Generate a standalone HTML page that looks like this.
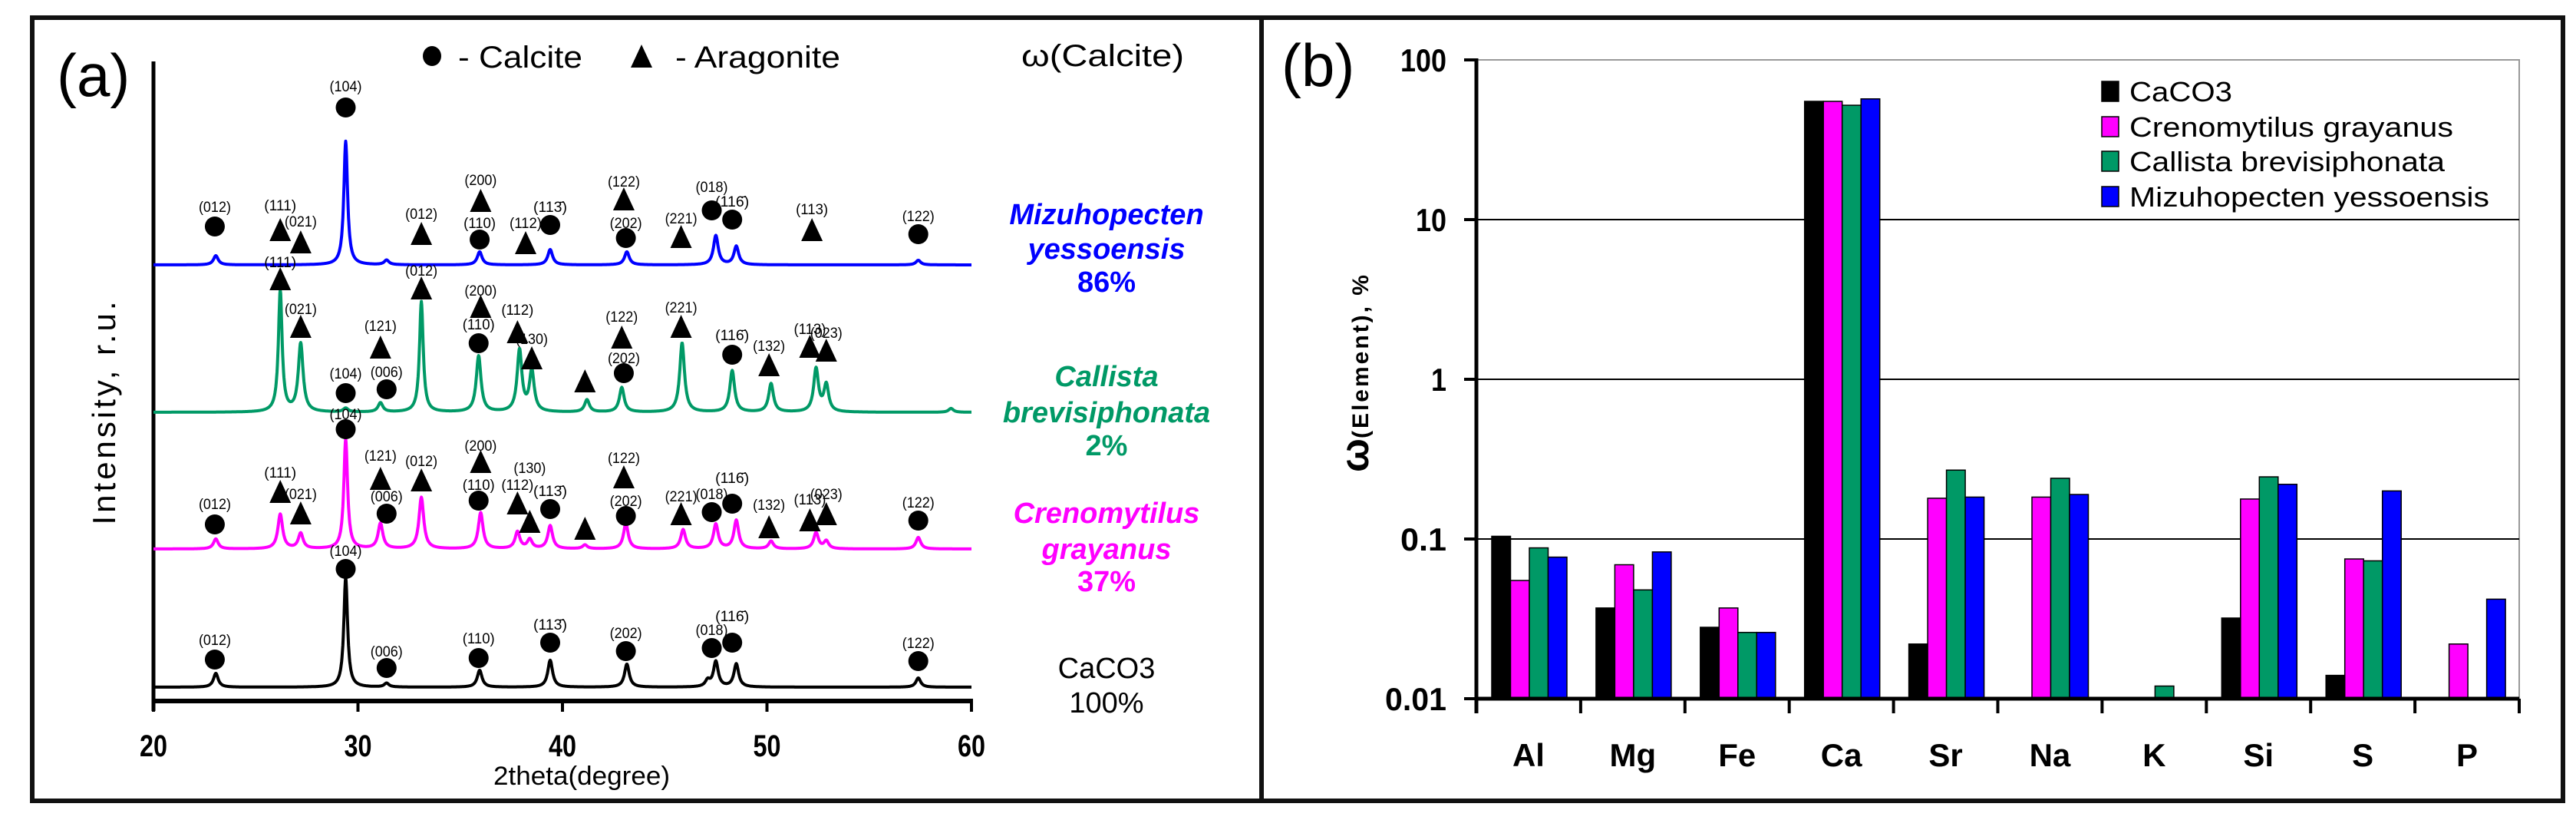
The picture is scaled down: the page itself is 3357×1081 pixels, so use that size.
<!DOCTYPE html>
<html><head><meta charset="utf-8"><style>
html,body{margin:0;padding:0;background:#fff;}
svg{display:block;font-family:"Liberation Sans",sans-serif;}
</style></head><body>
<svg id="fig" width="3357" height="1081" viewBox="0 0 3357 1081" xmlns="http://www.w3.org/2000/svg">
<rect x="0" y="0" width="3357" height="1081" fill="#fff"/>
<rect x="42" y="23" width="1602" height="1020" fill="none" stroke="#111" stroke-width="6"/>
<rect x="1644" y="23" width="1696" height="1020" fill="none" stroke="#111" stroke-width="6"/>
<g id="pa"></g>
<g id="pb"></g>
</svg>
<script>
// ===== Panel (a) XRD data =====
const seriesNames = ["Mizuhopecten yessoensis","Callista brevisiphonata","Crenomytilus grayanus","CaCO3"];
const seriesColors = ["#0000ff","#009966","#ff00ff","#000000"];
const seriesBaselines = [345,537,715,895];
const blueTheta = [23.05,29.4,31.4,35.95,39.4,43.15,47.5,48.5,57.4];
const blueHeight = [12,161,6,17,20,17,38,24,6];
const greenTheta = [26.2,27.2,29.4,31.1,33.1,35.9,37.9,38.5,41.2,42.9,45.85,48.3,50.2,52.4,52.9,59.0];
const greenHeight = [158,89,5,12,144,73,80,53,16,32,90,54,37,56,35,5];
const magentaTheta = [23.05,26.2,27.2,29.4,31.1,33.1,36.0,37.8,38.4,39.4,41.1,43.1,45.9,47.5,48.5,50.2,52.4,52.9,57.4];
const magentaHeight = [13,45,20,143,33,67,47,22,12,30,5,33,25,32,37,10,21,10,15];
const blackTheta = [23.05,29.4,31.4,35.95,39.4,43.15,47.1,47.5,48.5,57.4];
const blackHeight = [18,143,5,22,35,30,8,33,30,12];
const xTicks = [20,30,40,50,60];
const blueMarks = [[23.0,295,'c','(012)',269],[26.2,300,'t','(111)',267],[27.2,316,'t','(021)',288],[29.4,140,'c','(104)',112],[33.1,305,'t','(012)',278],[35.95,312,'c','(110)',290],[36.0,262,'t','(200)',234],[38.2,317,'t','(112)',290],[39.4,293,'c','(113̄)',269],[43.0,260,'t','(122)',236],[43.1,310,'c','(202)',290],[45.8,309,'t','(221)',284],[47.3,274,'c','(018)',243],[48.3,286,'c','(116̄)',262],[52.2,300,'t','(113)',272],[57.4,305,'c','(122)',281]];
const greenMarks = [[26.2,364,'t','(111)',341],[27.2,426,'t','(021)',402],[29.4,512,'c','(104)',486],[31.4,507,'c','(006)',484],[31.1,453,'t','(121)',424],[33.1,376,'t','(012)',352],[36.0,400,'t','(200)',378],[35.9,447,'c','(110)',422],[37.8,433,'t','(112)',403],[38.5,467,'t','(130)',441],[41.1,497,'t','',0],[42.9,440,'t','(122)',412],[43.0,486,'c','(202)',466],[45.8,426,'t','(221)',400],[48.3,462,'c','(116̄)',436],[50.1,476,'t','(132)',450],[52.1,452,'t','(113)',428],[52.9,457,'t','(023)',433]];
const magentaMarks = [[23.0,683,'c','(012)',656],[26.2,641,'t','(111)',615],[27.2,669,'t','(021)',643],[29.4,559,'c','(104)',539],[31.1,624,'t','(121)',593],[31.4,669,'c','(006)',646],[33.1,626,'t','(012)',600],[36.0,602,'t','(200)',580],[35.9,652,'c','(110)',631],[37.8,656,'t','(112)',631],[38.4,680,'t','(130)',609],[39.4,663,'c','(113̄)',639],[41.1,689,'t','',0],[43.0,622,'t','(122)',596],[43.1,672,'c','(202)',652],[45.8,670,'t','(221)',646],[47.3,667,'c','(018)',643],[48.3,656,'c','(116̄)',622],[50.1,687,'t','(132)',657],[52.1,678,'t','(113)',650],[52.9,670,'t','(023)',643],[57.4,678,'c','(122)',654]];
const blackMarks = [[23.0,859,'c','(012)',833],[29.4,741,'c','(104)',717],[31.4,870,'c','(006)',848],[35.9,857,'c','(110)',831],[39.4,837,'c','(113̄)',813],[43.1,848,'c','(202)',824],[47.3,844,'c','(018)',820],[48.3,837,'c','(116̄)',802],[57.4,861,'c','(122)',837]];

// ===== Panel (b) element data =====
const elements = ["Al","Mg","Fe","Ca","Sr","Na","K","Si","S","P"];
const legendNames = ["CaCO3","Crenomytilus grayanus","Callista brevisiphonata","Mizuhopecten yessoensis"];
const barColors = ["#000000","#ff00ff","#009966","#0000ff"];
const caco3Vals = [0.104,0.037,0.028,55,0.022,null,null,0.032,0.014,null];
const crenoVals = [0.055,0.069,0.037,55,0.18,0.183,null,0.178,0.075,0.022];
const callistaVals = [0.088,0.048,0.026,52,0.27,0.24,0.012,0.245,0.073,null];
const mizuVals = [0.077,0.083,0.026,57,0.183,0.19,null,0.22,0.2,0.042];
const yTickVals = [100,10,1,0.1,0.01];
const yTickLabels = ["100","10","1","0.1","0.01"];

const NS="http://www.w3.org/2000/svg";
function mk(tag,attrs,parent,txt){const e=document.createElementNS(NS,tag);for(const k in attrs)e.setAttribute(k,attrs[k]);if(txt!==undefined)e.textContent=txt;parent.appendChild(e);return e;}

const pa=document.getElementById('pa');
const xA=t=>200+(t-20)*(1066/40);
let el;
el=mk('line',{x1:200,y1:80,x2:200,y2:926,stroke:'#000','stroke-width':5},pa);


el=mk('line',{x1:200,y1:913,x2:1266,y2:913,stroke:'#000','stroke-width':6},pa);


xTicks.forEach(t=>{
  el=mk('line',{x1:xA(t),y1:910,x2:xA(t),y2:927,stroke:'#000','stroke-width':4},pa);
  
  
  el=mk('text',{x:xA(t),y:985,'text-anchor':'middle','font-size':40,'font-weight':'bold',textLength:36,lengthAdjust:'spacingAndGlyphs'},pa,String(t));
  
  
});
el=mk('text',{x:758,y:1022,'text-anchor':'middle','font-size':34,textLength:230,lengthAdjust:'spacingAndGlyphs'},pa,'2theta(degree)');


el=mk('text',{x:150,y:536,'text-anchor':'middle','font-size':42,'letter-spacing':4,transform:'rotate(-90 150 536)'},pa,'Intensity, r.u.');


el=mk('text',{x:74,y:125,'font-size':78},pa,'(a)');


el=mk('ellipse',{cx:563,cy:73,rx:12,ry:13,fill:'#000'},pa);


el=mk('text',{x:597,y:88,'font-size':40,textLength:162,lengthAdjust:'spacingAndGlyphs'},pa,'- Calcite');


el=mk('polygon',{points:'836,58 850,88 822,88',fill:'#000'},pa);


el=mk('text',{x:880,y:88,'font-size':40,textLength:215,lengthAdjust:'spacingAndGlyphs'},pa,'- Aragonite');


el=mk('text',{x:1331,y:86,'font-size':40,textLength:212,lengthAdjust:'spacingAndGlyphs'},pa,'ω(Calcite)');



const thetaSets=[blueTheta,greenTheta,magentaTheta,blackTheta];
const heightSets=[blueHeight,greenHeight,magentaHeight,blackHeight];
const markSets=[blueMarks,greenMarks,magentaMarks,blackMarks];
const slugs=['mizuhopecten','callista','crenomytilus','caco3'];
for(let s=0;s<4;s++){
  const base=seriesBaselines[s];let d='';
  for(let t=20;t<=60.0001;t+=0.02){
    let y=0;const th=thetaSets[s],hh=heightSets[s];
    for(let i=0;i<th.length;i++){const w=(hh[i]>100?0.11:0.14);const u=(t-th[i])/w;y+=hh[i]/(1+u*u);}
    d+=(d?'L':'M')+xA(t).toFixed(1)+','+(base-y).toFixed(1);
  }
  el=mk('path',{d:d,fill:'none',stroke:seriesColors[s],'stroke-width':4,'stroke-linejoin':'round'},pa);
  
  
  markSets[s].forEach(m=>{
    const x=xA(m[0]);
    if(m[2]==='c'){
      el=mk('ellipse',{cx:x,cy:m[1],rx:13,ry:13,fill:'#000'},pa);
      
      
    }else{
      el=mk('polygon',{points:`${x},${m[1]-16} ${x+14},${m[1]+14} ${x-14},${m[1]+14}`,fill:'#000'},pa);
      
      
    }
    if(m[3]){
      el=mk('text',{x:x,y:m[4]+7,'text-anchor':'middle','font-size':19,textLength:m[3].length>5?44:42,lengthAdjust:'spacingAndGlyphs'},pa,m[3]);
      
      
    }
  });
}
const sideLabels=[[['Mizuhopecten',279,'bi'],['yessoensis',324,'bi'],['86%',367,'b']],[['Callista',490,'bi'],['brevisiphonata',537,'bi'],['2%',580,'b']],[['Crenomytilus',668,'bi'],['grayanus',715,'bi'],['37%',757,'b']],[['CaCO3',870,'n'],['100%',915,'n']]];
sideLabels.forEach((grp,s)=>grp.forEach(l=>{
  const a={x:1442,y:l[1]+13,'text-anchor':'middle','font-size':38,fill:seriesColors[s]};
  if(l[2]!=='n')a['font-weight']='bold';
  if(l[2]==='bi')a['font-style']='italic';
  el=mk('text',a,pa,l[0]);
  
  
}));

const pb=document.getElementById('pb');
const X0=1924,X1=3283,GW=(X1-X0)/elements.length;
const yB=v=>910-(Math.log10(v)+2)*208;
el=mk('rect',{x:X0,y:yB(100),width:X1-X0,height:yB(0.01)-yB(100),fill:'none',stroke:'#999','stroke-width':2},pb);


yTickVals.forEach((v,i)=>{
  if(v<100&&v>0.01){
    el=mk('line',{x1:X0,y1:yB(v),x2:X1,y2:yB(v),stroke:'#000','stroke-width':2},pb);
    
    
  }
  el=mk('line',{x1:X0-16,y1:yB(v),x2:X0,y2:yB(v),stroke:'#000','stroke-width':4},pb);
  
  
  el=mk('text',{x:1885,y:yB(v)+15,'text-anchor':'end','font-size':42,'font-weight':'bold',textLength:yTickLabels[i].length*20,lengthAdjust:'spacingAndGlyphs'},pb,yTickLabels[i]);
  
  
});
const valSets=[caco3Vals,crenoVals,callistaVals,mizuVals];
const BW=24.5;
elements.forEach((e,i)=>{
  const g0=X0+i*GW;
  valSets.forEach((vals,j)=>{
    const v=vals[i];if(v==null)return;
    el=mk('rect',{x:g0+20+j*BW,y:yB(v),width:BW,height:yB(0.01)-yB(v),fill:barColors[j],stroke:'#000','stroke-width':1.5},pb);
    
    
  });
  el=mk('text',{x:g0+GW/2,y:998,'text-anchor':'middle','font-size':42,'font-weight':'bold'},pb,e);
  
  
});
for(let i=0;i<=elements.length;i++){
  el=mk('line',{x1:X0+i*GW,y1:910,x2:X0+i*GW,y2:929,stroke:'#000','stroke-width':4},pb);
  
  
}
el=mk('line',{x1:X0,y1:yB(100)-2,x2:X0,y2:929,stroke:'#000','stroke-width':5},pb);


el=mk('line',{x1:X0,y1:910,x2:X1,y2:910,stroke:'#000','stroke-width':5},pb);


legendNames.forEach((n,j)=>{
  const ly=[119,165,210,256][j];
  el=mk('rect',{x:2739,y:ly-13,width:22,height:26,fill:barColors[j],stroke:'#000','stroke-width':1.5},pb);
  
  
  el=mk('text',{x:2775,y:ly+13,'font-size':36,textLength:[134,422,411,469][j],lengthAdjust:'spacingAndGlyphs'},pb,n);
  
  
});
el=mk('text',{x:1783,y:485,'text-anchor':'middle','font-size':40,'font-weight':'bold',transform:'rotate(-90 1783 485)'},pb);


const t1=mk('tspan',{'font-size':52},el,'ω');
const t2=mk('tspan',{'font-size':30,'letter-spacing':3},el,'(Element),  %');
el=mk('text',{x:1670,y:112,'font-size':78},pb,'(b)');


</script>
</body></html>
